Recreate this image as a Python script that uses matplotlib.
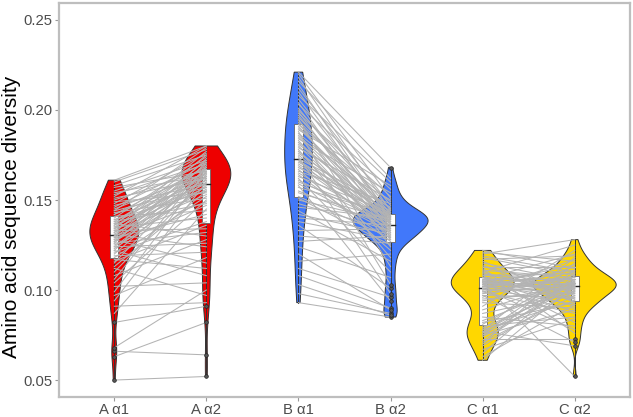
import matplotlib
matplotlib.use("Agg")
import matplotlib.pyplot as plt
import numpy as np

plt.rcParams['font.family'] = ['Liberation Sans', 'DejaVu Sans']

labels = ["A α1", "A α2", "B α1", "B α2", "C α1", "C α2"]
colors = ["#EE0000", "#EE0000", "#4178FA", "#4178FA", "#FFD700", "#FFD700"]

# paired values (index i in x1 pairs with index i in x2)
a1 = [0.050, 0.063, 0.066, 0.068, 0.082, 0.087, 0.091, 0.094, 0.097, 0.099,
      0.102, 0.104, 0.106, 0.108, 0.110, 0.112, 0.113, 0.115, 0.116, 0.117,
      0.118, 0.119, 0.120, 0.121, 0.122, 0.122, 0.123, 0.124, 0.124, 0.125,
      0.126, 0.126, 0.127, 0.127, 0.128, 0.128, 0.129, 0.129, 0.130, 0.130,
      0.131, 0.131, 0.132, 0.132, 0.133, 0.133, 0.134, 0.134, 0.135, 0.135,
      0.136, 0.136, 0.137, 0.137, 0.138, 0.138, 0.139, 0.139, 0.140, 0.141,
      0.142, 0.142, 0.143, 0.144, 0.144, 0.145, 0.146, 0.147, 0.148, 0.149,
      0.150, 0.151, 0.152, 0.153, 0.154, 0.155, 0.157, 0.158, 0.160, 0.161]
a2 = [0.052, 0.082, 0.064, 0.100, 0.091, 0.145, 0.093, 0.160, 0.118, 0.166,
      0.104, 0.150, 0.169, 0.128, 0.162, 0.097, 0.155, 0.168, 0.136, 0.112,
      0.152, 0.121, 0.164, 0.138, 0.171, 0.108, 0.158, 0.126, 0.163, 0.147,
      0.173, 0.132, 0.156, 0.165, 0.115, 0.160, 0.142, 0.167, 0.149, 0.170,
      0.124, 0.161, 0.153, 0.172, 0.134, 0.165, 0.157, 0.175, 0.140, 0.163,
      0.159, 0.177, 0.130, 0.166, 0.148, 0.169, 0.161, 0.155, 0.174, 0.144,
      0.163, 0.168, 0.151, 0.179, 0.157, 0.165, 0.171, 0.159, 0.176, 0.154,
      0.167, 0.162, 0.180, 0.170, 0.164, 0.172, 0.166, 0.175, 0.178, 0.180]

b1 = [0.093, 0.098, 0.103, 0.108, 0.112, 0.116, 0.120, 0.124, 0.127, 0.130,
      0.133, 0.136, 0.138, 0.140, 0.142, 0.144, 0.146, 0.148, 0.150, 0.151,
      0.152, 0.154, 0.155, 0.157, 0.158, 0.159, 0.160, 0.161, 0.162, 0.163,
      0.164, 0.165, 0.166, 0.167, 0.168, 0.169, 0.170, 0.171, 0.172, 0.172,
      0.173, 0.174, 0.175, 0.176, 0.177, 0.178, 0.179, 0.180, 0.181, 0.182,
      0.183, 0.184, 0.185, 0.186, 0.187, 0.188, 0.189, 0.190, 0.191, 0.192,
      0.193, 0.194, 0.195, 0.196, 0.197, 0.198, 0.199, 0.200, 0.201, 0.203,
      0.204, 0.206, 0.208, 0.210, 0.212, 0.214, 0.216, 0.218, 0.220, 0.221]
b2 = [0.085, 0.087, 0.086, 0.090, 0.096, 0.120, 0.089, 0.107, 0.130, 0.126,
      0.134, 0.101, 0.128, 0.136, 0.131, 0.116, 0.140, 0.133, 0.138, 0.125,
      0.129, 0.139, 0.135, 0.142, 0.094, 0.132, 0.141, 0.136, 0.110, 0.143,
      0.127, 0.137, 0.148, 0.122, 0.141, 0.133, 0.138, 0.144, 0.130, 0.140,
      0.146, 0.098, 0.134, 0.141, 0.137, 0.118, 0.150, 0.131, 0.142, 0.139,
      0.128, 0.154, 0.134, 0.138, 0.145, 0.103, 0.158, 0.140, 0.135, 0.149,
      0.124, 0.143, 0.113, 0.141, 0.136, 0.152, 0.129, 0.145, 0.137, 0.156,
      0.132, 0.142, 0.160, 0.139, 0.147, 0.140, 0.162, 0.144, 0.151, 0.168]

c1 = [0.061, 0.063, 0.065, 0.067, 0.069, 0.070, 0.071, 0.072, 0.073, 0.074,
      0.075, 0.075, 0.076, 0.076, 0.077, 0.077, 0.078, 0.078, 0.079, 0.080,
      0.081, 0.082, 0.083, 0.085, 0.087, 0.089, 0.091, 0.093, 0.094, 0.095,
      0.096, 0.097, 0.097, 0.098, 0.099, 0.099, 0.100, 0.100, 0.101, 0.101,
      0.101, 0.102, 0.102, 0.102, 0.103, 0.103, 0.103, 0.103, 0.104, 0.104,
      0.104, 0.104, 0.105, 0.105, 0.105, 0.105, 0.106, 0.106, 0.106, 0.107,
      0.107, 0.108, 0.108, 0.109, 0.109, 0.110, 0.110, 0.111, 0.112, 0.113,
      0.113, 0.114, 0.115, 0.116, 0.117, 0.118, 0.119, 0.120, 0.121, 0.122]
c2 = [0.103, 0.092, 0.108, 0.084, 0.100, 0.115, 0.097, 0.105, 0.073, 0.102,
      0.106, 0.089, 0.099, 0.111, 0.069, 0.104, 0.094, 0.118, 0.101, 0.085,
      0.109, 0.093, 0.103, 0.080, 0.098, 0.105, 0.122, 0.090, 0.102, 0.099,
      0.113, 0.096, 0.071, 0.104, 0.107, 0.087, 0.101, 0.117, 0.092, 0.103,
      0.078, 0.110, 0.098, 0.106, 0.095, 0.102, 0.088, 0.114, 0.100, 0.107,
      0.052, 0.104, 0.096, 0.111, 0.101, 0.091, 0.106, 0.099, 0.120, 0.103,
      0.094, 0.109, 0.082, 0.104, 0.100, 0.125, 0.097, 0.107, 0.076, 0.102,
      0.113, 0.093, 0.105, 0.095, 0.119, 0.108, 0.110, 0.128, 0.116, 0.112]

series = [a1, a2, b1, b2, c1, c2]
pairs = [(0, 1), (2, 3), (4, 5)]


def kde(v, grid):
    v = np.asarray(v)
    q1, q3 = np.percentile(v, [25, 75])
    bw = 0.9 * min(v.std(ddof=1), (q3 - q1) / 1.34) * len(v) ** -0.2
    z = (grid[:, None] - v[None, :]) / bw
    return np.exp(-0.5 * z ** 2).sum(axis=1) / (len(v) * bw * np.sqrt(2 * np.pi))


fig = plt.figure(figsize=(6.33, 4.17), dpi=100)
ax = fig.add_axes([59 / 633, 20 / 417, 571 / 633, 394 / 417])

grids, dens = [], []
for v in series:
    g = np.linspace(min(v), max(v), 512)
    grids.append(g)
    dens.append(kde(v, g))
dmax = max(d.max() for d in dens)

for i, v in enumerate(series):
    x = i + 1
    w = dens[i] / dmax * 0.45
    g = grids[i]
    xs = np.concatenate([x - w, (x + w)[::-1]])
    ys = np.concatenate([g, g[::-1]])
    ax.fill(xs, ys, facecolor=colors[i], edgecolor="#333333", lw=0.7, zorder=1)
    ax.plot([x, x], [g[0], g[-1]], color="#333333", lw=0.7, zorder=2)

    # narrow boxplot
    q1, med, q3 = np.percentile(v, [25, 50, 75])
    ax.add_patch(plt.Rectangle((x - 0.045, q1), 0.09, q3 - q1, facecolor="white",
                               edgecolor="#666666", lw=0.6, zorder=3))
    ax.plot([x - 0.045, x + 0.045], [med, med], color="#222222", lw=1.0, zorder=3)

# paired lines
for l, r in pairs:
    for y0, y1 in zip(series[l], series[r]):
        ax.plot([l + 1, r + 1], [y0, y1], color="#B3B3B3", lw=0.75, zorder=4)

# boxplot outliers
for i, v in enumerate(series):
    v = np.asarray(v)
    q1, q3 = np.percentile(v, [25, 75])
    iqr = q3 - q1
    out = v[(v < q1 - 1.5 * iqr) | (v > q3 + 1.5 * iqr)]
    ax.scatter(np.full(len(out), i + 1), out, s=7, color="#555555",
               edgecolor="#222222", linewidth=0.5, zorder=5)

ax.set_xlim(0.4, 6.6)
ax.set_ylim(0.0406, 0.2594)
ax.set_xticks(range(1, 7))
ax.set_xticklabels(labels)
ax.set_yticks([0.05, 0.10, 0.15, 0.20, 0.25])
ax.set_yticklabels(["0.05", "0.10", "0.15", "0.20", "0.25"])
ax.tick_params(colors="#4D4D4D", labelsize=10.7, length=3, width=0.8, pad=1.5)
ax.tick_params(axis="both", color="#999999")
for s in ax.spines.values():
    s.set_color("#BEBEBE")
    s.set_linewidth(1.6)

fig.text(12 / 633, 1 - 217 / 417, "Amino acid sequence diversity", rotation=90,
         ha="center", va="center", fontsize=15, color="black")

fig.savefig("out.png", dpi=100)
